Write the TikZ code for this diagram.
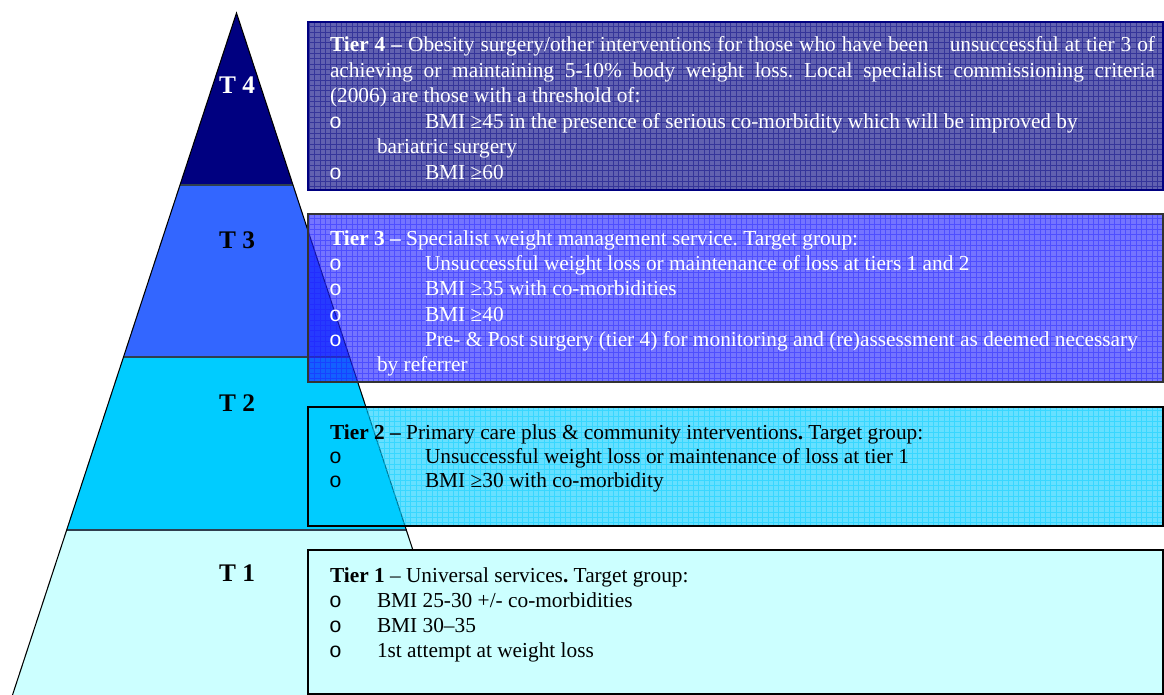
\documentclass[tikz,border=0pt]{standalone}
\usepackage{fontspec}
\setmainfont{Liberation Serif}
\setmonofont{Liberation Mono}
\newdimen\pxu \pxu=0.75pt
\definecolor{tfour}{HTML}{000080}
\definecolor{tthree}{HTML}{3366FF}
\definecolor{ttwo}{HTML}{00CCFF}
\definecolor{tone}{HTML}{CCFFFF}
\definecolor{bthree}{HTML}{1F1FFF}
\definecolor{sep}{HTML}{2F3F4F}
\tikzset{
  every node/.style={inner sep=0pt, outer sep=0pt},
  body/.style={anchor=base west, font=\fontsize{16}{19}\selectfont\frenchspacing},
  wbody/.style={body, text=white},
  tlabel/.style={font=\fontsize{19}{22}\selectfont\bfseries},
  bul/.style={anchor=base west, font=\fontsize{16}{19}\ttfamily},
  wbul/.style={bul, text=white},
  band/.style={draw=sep, line width=1.6pt},
  boxline/.style={line width=1.3pt},
}
\newcommand{\gridbox}[5]{% x1 y1 x2 y2 color
  \begin{scope}
    \clip (#1,#2) rectangle (#3,#4);
    \draw[#5, opacity=0.45, line width=0.6pt, step=4pt] (#1,#2) grid (#3,#4);
  \end{scope}}
\begin{document}
\begin{tikzpicture}[x=0.75pt, y=-0.75pt]
\useasboundingbox (0,0) rectangle (1164,695);
% pyramid bands
\coordinate (apex) at (236.5,13);
\coordinate (l43) at (180,185);   \coordinate (r43) at (293,185);
\coordinate (l32) at (123.5,357); \coordinate (r32) at (349.5,357);
\coordinate (l21) at (66.5,530);  \coordinate (r21) at (406.5,530);
\coordinate (l10) at (12.5,695);  \coordinate (r10) at (460.5,695);
\fill[tfour] (apex) -- (r43) -- (l43) -- cycle;
\fill[tthree] (l43) -- (r43) -- (r32) -- (l32) -- cycle;
\fill[ttwo] (l32) -- (r32) -- (r21) -- (l21) -- cycle;
\fill[tone] (l21) -- (r21) -- (r10) -- (l10) -- cycle;
\draw[band] (l43) -- (r43);
\draw[band] (l32) -- (r32);
\draw[band] (l21) -- (r21);
\draw[line width=0.8pt] (l10) -- (apex) -- (r10);
\node[tlabel, text=white] (T4) at (237,85) {T 4};
\node[tlabel] (T3) at (237,240) {T 3};
\node[tlabel] (T2) at (237,403) {T 2};
\node[tlabel] (T1) at (237,573) {T 1};

% Tier 4 box
\fill[tfour, opacity=0.62] (308,22) rectangle (1163,190);
\gridbox{308}{22}{1163}{190}{tfour}
\draw[boxline, draw=tfour] (308,22) rectangle (1163,190);
\node[wbody] (t4a) at (330,52) {\makebox[825\pxu][s]{\textbf{Tier 4 –} Obesity surgery/other interventions for those who have been\hspace{1em}unsuccessful at tier 3 of}};
\node[wbody] (t4b) at (330,77.5) {\makebox[825\pxu][s]{achieving or maintaining 5-10\% body weight loss. Local specialist commissioning criteria}};
\node[wbody] (t4c) at (330,103) {(2006) are those with a threshold of:};
\node[wbul] (t4d) at (329,128.5) {o};
\node[wbody] (t4e) at (425,128.5) {BMI ≥45 in the presence of serious co-morbidity which will be improved by};
\node[wbody] (t4f) at (377,154) {bariatric surgery};
\node[wbul] (t4g) at (329,179.5) {o};
\node[wbody] (t4h) at (425,179.5) {BMI ≥60};

% Tier 3 box
\fill[bthree, opacity=0.62] (308,214) rectangle (1163,382);
\gridbox{308}{214}{1163}{382}{bthree}
\draw[boxline, draw=black!80] (308,214) rectangle (1163,382);
\node[wbody] (t3a) at (330,245.5) {\textbf{Tier 3 –} Specialist weight management service. Target group:};
\node[wbul] (t3b) at (329,270.5) {o};
\node[wbody] (t3c) at (425,270.5) {Unsuccessful weight loss or maintenance of loss at tiers 1 and 2};
\node[wbul] (t3d) at (329,296) {o};
\node[wbody] (t3e) at (425,296) {BMI ≥35 with co-morbidities};
\node[wbul] (t3f) at (329,321) {o};
\node[wbody] (t3g) at (425,321) {BMI ≥40};
\node[wbul] (t3h) at (329,346.5) {o};
\node[wbody] (t3i) at (425,346.5) {Pre- \& Post surgery (tier 4) for monitoring and (re)assessment as deemed necessary};
\node[wbody] (t3j) at (377,371.5) {by referrer};

% Tier 2 box
\fill[ttwo, opacity=0.6] (308,407) rectangle (1163,526);
\gridbox{308}{407}{1163}{526}{ttwo}
\draw[boxline] (308,407) rectangle (1163,526);
\node[body] (t2a) at (330,439) {\textbf{Tier 2 –} Primary care plus \& community interventions\textbf{.} Target group:};
\node[bul] (t2b) at (329,463) {o};
\node[body] (t2c) at (425,463) {Unsuccessful weight loss or maintenance of loss at tier 1};
\node[bul] (t2d) at (329,487.5) {o};
\node[body] (t2e) at (425,487.5) {BMI ≥30 with co-morbidity};

% Tier 1 box
\fill[tone] (308,550) rectangle (1163,694);
\draw[boxline] (308,550) rectangle (1163,694);
\node[body] (t1a) at (330,582) {\textbf{Tier 1} – Universal services\textbf{.} Target group:};
\node[bul] (t1b) at (329,607) {o};
\node[body] (t1c) at (377,607) {BMI 25-30 +/- co-morbidities};
\node[bul] (t1d) at (329,632) {o};
\node[body] (t1e) at (377,632) {BMI 30–35};
\node[bul] (t1f) at (329,657) {o};
\node[body] (t1g) at (377,657) {1st attempt at weight loss};
\end{tikzpicture}
\end{document}
